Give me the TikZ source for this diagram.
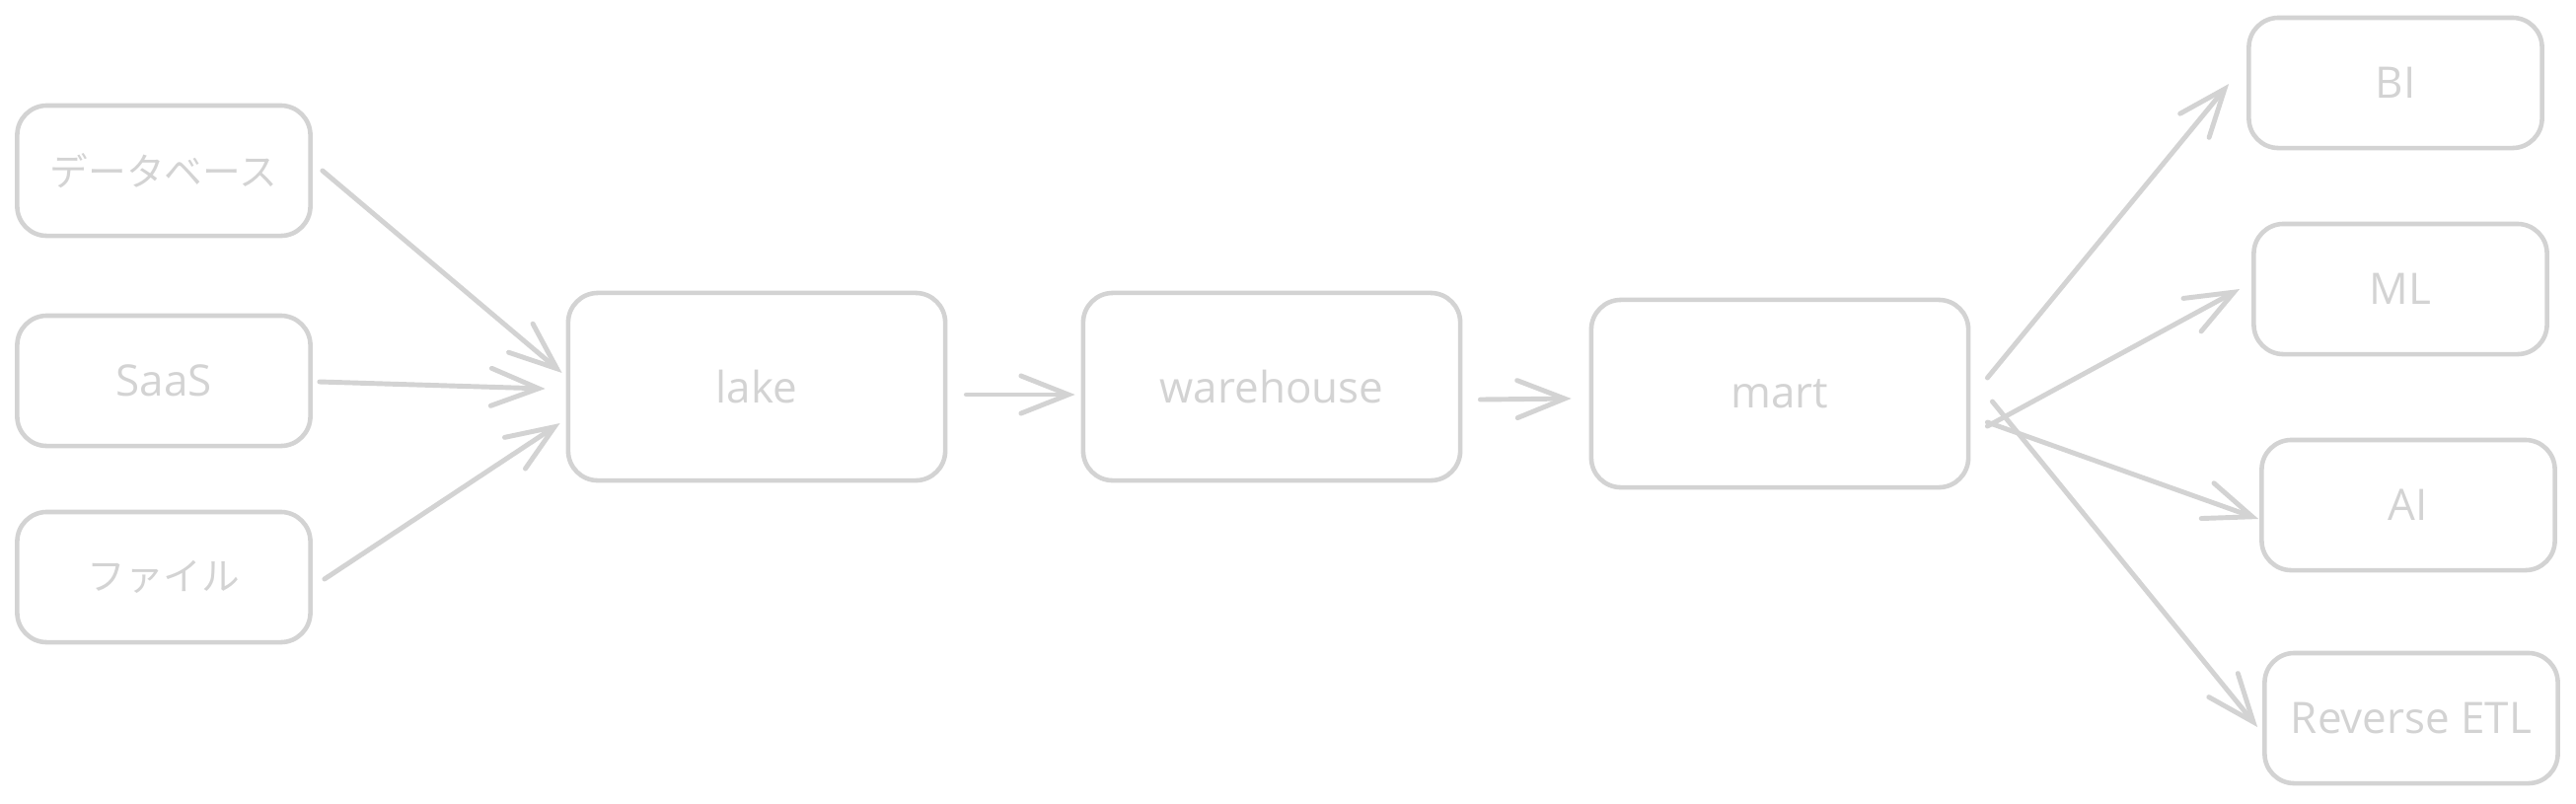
\documentclass[tikz,border=0pt]{standalone}
\usepackage{fontspec}
\setmainfont{Open Sans}
\newfontfamily\jpfont{Noto Sans CJK JP}
\usepackage{xcolor}
\usetikzlibrary{arrows.meta}
\definecolor{sketchgray}{RGB}{211,211,211}

\begin{document}
\begin{tikzpicture}[x=0.01cm, y=-0.01cm,
    box/.style={draw=sketchgray, line width=1.3pt, rounded corners=0.3cm,
        text=sketchgray, font=\fontsize{12.5}{15}\selectfont,
        minimum width=2.97cm, minimum height=1.32cm, inner sep=0pt},
    bigbox/.style={box, minimum width=3.82cm, minimum height=1.9cm},
    jptext/.style={font=\jpfont\fontsize{11}{13}\selectfont},
    link/.style={draw=sketchgray, line width=1.4pt, line cap=round,
        -{Straight Barb[length=0.48cm,width=0.38cm,line cap=round]}}]
    \useasboundingbox (0,0) rectangle (2611,814);

    % 数据源
    \node[box, jptext] (db)   at (166,173) {データベース};
    \node[box]         (saas) at (166,386) {SaaS};
    \node[box, jptext] (file) at (166,585) {ファイル};

    % 中间层
    \node[bigbox] (lake) at (767,392)  {lake};
    \node[bigbox] (wh)   at (1289,392) {warehouse};
    \node[bigbox] (mart) at (1804,399) {mart};

    % 输出
    \node[box] (bi)   at (2428,84)  {BI};
    \node[box] (ml)   at (2433,293) {ML};
    \node[box] (ai)   at (2441,512) {AI};
    \node[box] (retl) at (2444,728) {Reverse ETL};

    % 数据源 -> lake
    \draw[link] ([xshift=0.1cm]db.east) -- ([xshift=-0.04cm,yshift=0.14cm]lake.west);
    \draw[link] ([xshift=0.07cm,yshift=-0.01cm]saas.east) -- ([xshift=-0.21cm,yshift=-0.02cm]lake.west);
    \draw[link] ([xshift=0.12cm,yshift=-0.02cm]file.east) -- ([xshift=-0.06cm,yshift=-0.37cm]lake.west);

    % lake -> warehouse -> mart
    \draw[link] ([xshift=0.19cm,yshift=-0.08cm]lake.east) -- ([xshift=-0.06cm,yshift=-0.08cm]wh.west);
    \draw[link] ([xshift=0.18cm,yshift=-0.13cm]wh.east) -- ([xshift=-0.18cm,yshift=-0.05cm]mart.west);

    % mart -> 输出
    \draw[link] ([xshift=0.17cm,yshift=0.16cm]mart.east) -- ([xshift=-0.18cm,yshift=-0.01cm]bi.west);
    \draw[link] ([xshift=0.17cm,yshift=-0.33cm]mart.east) -- ([xshift=-0.12cm]ml.west);
    \draw[link] ([xshift=0.17cm,yshift=-0.29cm]mart.east) -- ([xshift=-0.01cm,yshift=-0.14cm]ai.west);
    \draw[link] ([xshift=0.22cm,yshift=-0.08cm]mart.east) -- ([xshift=-0.05cm,yshift=-0.09cm]retl.west);
\end{tikzpicture}
\end{document}
